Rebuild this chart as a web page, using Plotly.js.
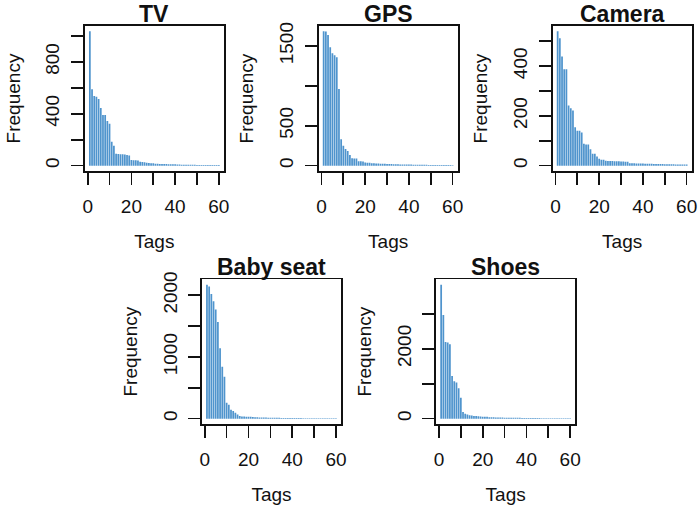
<!DOCTYPE html>
<html>
<head>
<meta charset="utf-8">
<script src="https://cdn.plot.ly/plotly-3.0.1.min.js"></script>
<style>html,body{margin:0;padding:0;background:#fff}#plot{width:699px;height:509px}</style>
</head>
<body>
<div id="plot"></div>
<script>
// ---- data ----
const panelTitles = ["TV", "GPS", "Camera", "Baby seat", "Shoes"];
const tags = Array.from({length: 60}, (_, i) => i + 1);

const tvFreq = [1035, 588, 537, 531, 514, 445, 391, 391, 345, 322, 184, 153, 92, 90, 88, 87, 85, 82, 78, 43,
  42, 41, 40, 30, 28, 27, 22, 20, 19, 18, 15, 14, 13, 13, 12, 12, 11, 11, 10, 10,
  8, 8, 7, 7, 7, 6, 6, 6, 6, 5, 5, 5, 5, 5, 4, 4, 4, 4, 4, 4];
const gpsFreq = [1683, 1680, 1638, 1484, 1410, 1385, 1360, 962, 332, 249, 207, 182, 133, 91, 90, 88, 55, 54, 52, 38,
  37, 36, 30, 29, 28, 27, 25, 24, 22, 21, 20, 19, 18, 17, 16, 15, 15, 14, 14, 13,
  13, 12, 12, 11, 11, 10, 10, 10, 9, 9, 9, 8, 8, 8, 8, 7, 7, 7, 7, 6];
const cameraFreq = [540, 512, 439, 388, 388, 242, 231, 222, 154, 140, 140, 133, 88, 85, 85, 66, 48, 48, 37, 28,
  24, 24, 20, 19, 19, 19, 18, 18, 18, 17, 17, 16, 16, 10, 10, 10, 9, 9, 9, 9,
  8, 8, 8, 8, 7, 7, 7, 7, 7, 6, 6, 6, 6, 6, 5, 5, 5, 5, 5, 5];
const babySeatFreq = [2173, 2145, 2022, 1904, 1770, 1566, 1143, 842, 681, 258, 225, 145, 122, 97, 69, 42, 35, 33, 32, 31,
  30, 28, 22, 21, 20, 19, 18, 17, 16, 15, 14, 14, 13, 13, 12, 12, 11, 11, 10, 10,
  10, 9, 9, 9, 8, 8, 8, 8, 7, 7, 7, 7, 6, 6, 6, 6, 6, 5, 5, 5];
const shoesFreq = [3835, 2963, 2196, 2177, 2130, 1221, 1068, 1031, 870, 597, 188, 142, 122, 94, 92, 76, 74, 72, 58, 57,
  56, 55, 40, 38, 37, 36, 35, 34, 30, 29, 28, 27, 26, 25, 24, 23, 22, 21, 20, 20,
  19, 18, 17, 16, 15, 15, 14, 14, 13, 13, 12, 12, 11, 11, 10, 10, 10, 9, 9, 9];

const xTickVals = [0, 10, 20, 30, 40, 50, 60];
const xTickText = ["0", "", "20", "", "40", "", "60"];
const yTickVals = [
  [0, 200, 400, 600, 800, 1000],
  [0, 500, 1000, 1500],
  [0, 100, 200, 300, 400, 500],
  [0, 500, 1000, 1500, 2000],
  [0, 1000, 2000, 3000]
];
const yTickText = [
  ["0", "", "400", "", "800", ""],
  ["0", "500", "", "1500"],
  ["0", "", "200", "", "400", ""],
  ["0", "", "1000", "", "2000"],
  ["0", "", "2000", ""]
];
const series = [tvFreq, gpsFreq, cameraFreq, babySeatFreq, shoesFreq];

// ---- layout geometry (pixels) ----
const W = 699, H = 509;
const boxW = 139.3;
const boxes = [
  {l: 84.7, t: 26, b: 171},
  {l: 318.5, t: 26, b: 171},
  {l: 552.5, t: 26, b: 171},
  {l: 201.8, t: 279.3, b: 424},
  {l: 436, t: 279.3, b: 424}
];

const FONT = "Liberation Sans, Arial, Helvetica, sans-serif";
const ink = "#111111";
const barColor = "#4F94CD";

const data = [];
const layout = {
  width: W, height: H,
  margin: {l: 0, r: 0, t: 0, b: 0},
  paper_bgcolor: "#fff", plot_bgcolor: "#fff",
  showlegend: false,
  font: {family: FONT, size: 19, color: ink},
  annotations: []
};

series.forEach((vals, i) => {
  const n = i === 0 ? "" : String(i + 1);
  const bx = boxes[i];
  const maxV = Math.max(...vals);
  data.push({
    type: "bar", x: tags, y: vals, width: 0.8,
    xaxis: "x" + n, yaxis: "y" + n,
    marker: {color: barColor, line: {width: 0}},
    hoverinfo: "x+y"
  });
  layout["xaxis" + n] = {
    domain: [bx.l / W, (bx.l + boxW) / W],
    anchor: "y" + n,
    range: [-1.36, 62.36],
    tickmode: "array", tickvals: xTickVals, ticktext: xTickText,
    ticks: "outside", ticklen: 12, tickwidth: 1.7, tickcolor: ink,
    showline: true, mirror: true, linewidth: 1.7, linecolor: ink,
    showgrid: false, zeroline: false,
    tickfont: {family: FONT, size: 19, color: ink},
    ticklabelstandoff: 5,
    title: {text: "Tags", font: {family: FONT, size: 19, color: ink}, standoff: 19}
  };
  layout["yaxis" + n] = {
    domain: [1 - bx.b / H, 1 - bx.t / H],
    anchor: "x" + n,
    range: [-0.04 * maxV, 1.04 * maxV],
    tickmode: "array", tickvals: yTickVals[i], ticktext: yTickText[i],
    tickangle: -90,
    ticks: "outside", ticklen: 12, tickwidth: 1.7, tickcolor: ink,
    showline: true, mirror: true, linewidth: 1.7, linecolor: ink,
    showgrid: false, zeroline: false,
    tickfont: {family: FONT, size: 19, color: ink},
    ticklabelstandoff: 4,
    title: {text: "Frequency", font: {family: FONT, size: 19, color: ink}, standoff: 17}
  };
  layout.annotations.push({
    text: "<b>" + panelTitles[i] + "</b>",
    xref: "x" + n + " domain", yref: "paper",
    x: 0.5, y: 1 - (bx.t - 12) / H,
    xanchor: "center", yanchor: "middle",
    showarrow: false,
    font: {family: FONT, size: 23, color: ink}
  });
});

Plotly.newPlot("plot", data, layout, {staticPlot: true});
</script>
</body>
</html>
